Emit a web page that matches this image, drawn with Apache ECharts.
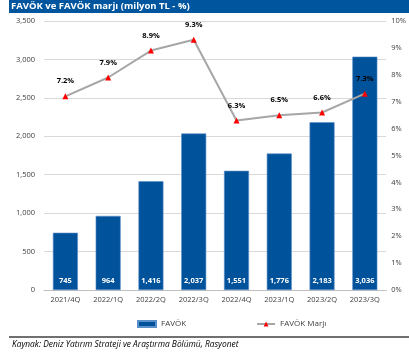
<!DOCTYPE html>
<html>
<head>
<meta charset="utf-8">
<script src="https://cdn.jsdelivr.net/npm/echarts@6/dist/echarts.min.js"></script>
<style>
  html, body { margin: 0; padding: 0; background: #fff; }
  #chart { width: 409px; height: 359px; }
</style>
</head>
<body>
<div id="chart"></div>
<script>
// Quarterly EBITDA (million TL) and EBITDA margin (%)
const quarters = ['2021/4Q', '2022/1Q', '2022/2Q', '2022/3Q', '2022/4Q', '2023/1Q', '2023/2Q', '2023/3Q'];
const favok = [745, 964, 1416, 2037, 1551, 1776, 2183, 3036];
const marj = [7.2, 7.9, 8.9, 9.3, 6.3, 6.5, 6.6, 7.3];
const leftTicks = [0, 500, 1000, 1500, 2000, 2500, 3000, 3500];
const rightTicks = [0, 1, 2, 3, 4, 5, 6, 7, 8, 9, 10];

const FONT = '"Open Sans", "Noto Sans", sans-serif';
const chart = echarts.init(document.getElementById('chart'), null, { renderer: 'canvas' });

chart.setOption({
  animation: false,
  textStyle: { fontFamily: FONT },
  graphic: [
    { type: 'rect', shape: { x: 9, y: 0, width: 400, height: 13 }, style: { fill: '#00559F' } },
    { type: 'text', x: 11, y: 6.5, style: { text: 'FAVÖK ve FAVÖK marjı (milyon TL - %)', fill: '#fff', font: 'bold 9.5px ' + FONT, verticalAlign: 'middle' } },
    { type: 'line', shape: { x1: 9, y1: 337, x2: 409, y2: 337 }, style: { stroke: '#404040', lineWidth: 1.5 } },
    { type: 'text', left: 12, top: 341, style: { text: 'Kaynak: Deniz Yatırım Strateji ve Araştırma Bölümü, Rasyonet', fill: '#000', font: 'italic 8.4px ' + FONT } }
  ],
  grid: { left: 44, right: 21, top: 21, bottom: 69, containLabel: false },
  legend: {
    top: 315,
    left: 132,
    itemGap: 70,
    itemWidth: 18,
    itemHeight: 6,
    textStyle: { fontSize: 8, color: '#404040', fontFamily: FONT },
    data: [
      { name: 'FAVÖK', icon: 'rect' },
      { name: 'FAVÖK Marjı' }
    ]
  },
  xAxis: {
    type: 'category',
    data: quarters,
    axisTick: { show: false },
    axisLine: { lineStyle: { color: '#bfbfbf' } },
    axisLabel: { fontSize: 7.5, color: '#404040', margin: 6, interval: 0 }
  },
  yAxis: [
    {
      type: 'value', min: 0, max: 3500, interval: 500,
      axisLabel: {
        fontSize: 7.5, color: '#404040', margin: 9,
        formatter: v => leftTicks.includes(v) ? v.toLocaleString('en-US') : ''
      },
      splitLine: { lineStyle: { color: '#d9d9d9' } },
      axisLine: { show: false }, axisTick: { show: false }
    },
    {
      type: 'value', min: 0, max: 10, interval: 1,
      axisLabel: {
        fontSize: 7.5, color: '#404040', margin: 5,
        formatter: v => rightTicks.includes(v) ? v + '%' : ''
      },
      splitLine: { show: false },
      axisLine: { show: false }, axisTick: { show: false }
    }
  ],
  series: [
    {
      name: 'FAVÖK',
      type: 'bar',
      data: favok,
      barWidth: 25,
      itemStyle: { color: '#00529B', borderColor: '#5b8fc9', borderWidth: 0.6 },
      label: {
        show: true, position: 'insideBottom', distance: 5,
        color: '#fff', fontWeight: 'bold', fontSize: 7.5,
        formatter: p => p.value.toLocaleString('en-US')
      }
    },
    {
      name: 'FAVÖK Marjı',
      type: 'line',
      yAxisIndex: 1,
      data: marj,
      symbol: 'triangle',
      symbolSize: 6,
      lineStyle: { color: '#a6a6a6', width: 2 },
      itemStyle: { color: '#ff0000' },
      label: {
        show: true, position: 'top', distance: 8,
        color: '#000', fontWeight: 'bold', fontSize: 7.5,
        formatter: p => p.value.toFixed(1) + '%'
      },
      z: 5
    }
  ]
});
</script>
</body>
</html>
